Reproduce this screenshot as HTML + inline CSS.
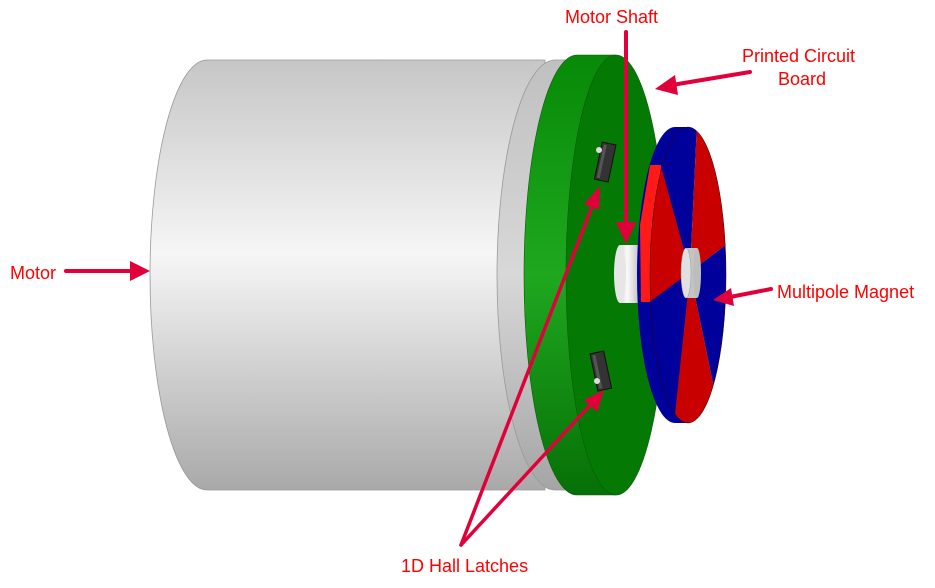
<!DOCTYPE html>
<html><head><style>
html,body{margin:0;padding:0;background:#fff;}
svg{display:block;}
text{font-family:"Liberation Sans",sans-serif;font-size:18px;fill:#ff0000;}
</style></head><body>
<svg width="935" height="588" viewBox="0 0 935 588" xmlns="http://www.w3.org/2000/svg">
<defs>
<linearGradient id="gm" x1="0" y1="0" x2="0" y2="1">
<stop offset="0" stop-color="#c6c6c6"/><stop offset="0.45" stop-color="#f6f6f6"/><stop offset="1" stop-color="#a9a9a9"/>
</linearGradient>
<linearGradient id="gr" x1="0" y1="0" x2="0" y2="1">
<stop offset="0" stop-color="#c0c0c0"/><stop offset="0.5" stop-color="#d8d8d8"/><stop offset="1" stop-color="#a5a5a5"/>
</linearGradient>
<linearGradient id="gg" x1="0" y1="0" x2="0" y2="1">
<stop offset="0" stop-color="#078a07"/><stop offset="0.5" stop-color="#1fa81f"/><stop offset="1" stop-color="#067006"/>
</linearGradient>
<linearGradient id="gs" x1="0" y1="0" x2="1" y2="0">
<stop offset="0" stop-color="#d8d8d8"/><stop offset="0.4" stop-color="#fafafa"/><stop offset="1" stop-color="#c8c8c8"/>
</linearGradient>
<clipPath id="mf"><ellipse cx="688" cy="275" rx="38" ry="148"/></clipPath>
</defs>
<path d="M207,60 L545,60 L545,490 L207,490 A57,215 0 0 1 207,60 Z" fill="url(#gm)" stroke="#999" stroke-width="0.8"/>
<path d="M555,60 A58,215 0 0 0 555,490 L575,490 L575,60 Z" fill="url(#gr)" stroke="#999" stroke-width="0.8"/>
<path d="M577,55 A53,220 0 0 0 577,495 L616,495 L616,55 Z" fill="url(#gg)" stroke="#0a5a0a" stroke-width="0.6"/>
<ellipse cx="616" cy="275" rx="50" ry="220" fill="#047a04" stroke="#0a5a0a" stroke-width="0.6"/>
<rect x="620" y="245" width="18" height="58" fill="url(#gs)"/>
<ellipse cx="620" cy="274" rx="6" ry="29" fill="#e6e6e6"/>
<path d="M675,127 A38,148 0 0 0 675,423 L688,423 L688,127 Z" fill="#00009a"/>
<path d="M640,225 L641,302 L652,302 L661,165 L650,165 Z" fill="#ff1a1a"/>
<g clip-path="url(#mf)">
<polygon points="690,272 632,60 700,60" fill="#00009a"/>
<polygon points="690,272 700,60 780,60 780,204" fill="#c80000"/>
<polygon points="690,272 780,204 780,480 733,480" fill="#00009a"/>
<polygon points="690,272 733,480 668,480" fill="#c80000"/>
<polygon points="690,272 668,480 600,480 600,339" fill="#00009a"/>
<polygon points="690,272 600,339 600,60 632,60" fill="#c80000"/>
</g>
<ellipse cx="688" cy="275" rx="38" ry="148" fill="none" stroke="#300" stroke-width="0.5"/>
<rect x="686" y="248" width="11" height="50" fill="#c4c4c4"/>
<ellipse cx="686" cy="273" rx="5" ry="25" fill="#e0e0e0" stroke="#999" stroke-width="0.5"/>
<ellipse cx="697" cy="273" rx="4" ry="25" fill="#bdbdbd"/>
<g transform="rotate(12 605 163)"><rect x="598" y="143" width="14" height="38" fill="#333" stroke="#111"/><rect x="600" y="145" width="3" height="34" fill="#555"/></g>
<circle cx="599" cy="150" r="3" fill="#ddd"/>
<g transform="rotate(-12 601 372)"><rect x="594" y="352" width="14" height="38" fill="#333" stroke="#111"/><rect x="596" y="354" width="3" height="34" fill="#555"/></g>
<circle cx="597" cy="381" r="3" fill="#ddd"/>
<g stroke="#e0003a" stroke-width="4" fill="#e0003a" stroke-linecap="round">
<line x1="66" y1="271" x2="134" y2="271"/>
<polygon points="150,271 130,261 130,281" stroke="none"/>
<line x1="626" y1="32" x2="626" y2="226"/>
<polygon points="626,244 616,222 636,222" stroke="none"/>
<line x1="750" y1="72" x2="672" y2="85"/>
<polygon points="655,89 675,75 678,95" stroke="none"/>
<line x1="771" y1="289" x2="730" y2="297"/>
<polygon points="713,300 731,288 734,306" stroke="none"/>
<line x1="461" y1="545" x2="593" y2="204" stroke-width="3.5"/>
<polygon points="600,186 599,210 584,204" stroke="none"/>
<line x1="461" y1="545" x2="591" y2="404" stroke-width="3.5"/>
<polygon points="604,390 597,412 584,400" stroke="none"/>
</g>
<text x="10" y="279">Motor</text>
<text x="565" y="23">Motor Shaft</text>
<text x="742" y="62">Printed Circuit</text>
<text x="778" y="85">Board</text>
<text x="777" y="298">Multipole Magnet</text>
<text x="401" y="572">1D Hall Latches</text>
</svg>
</body></html>
